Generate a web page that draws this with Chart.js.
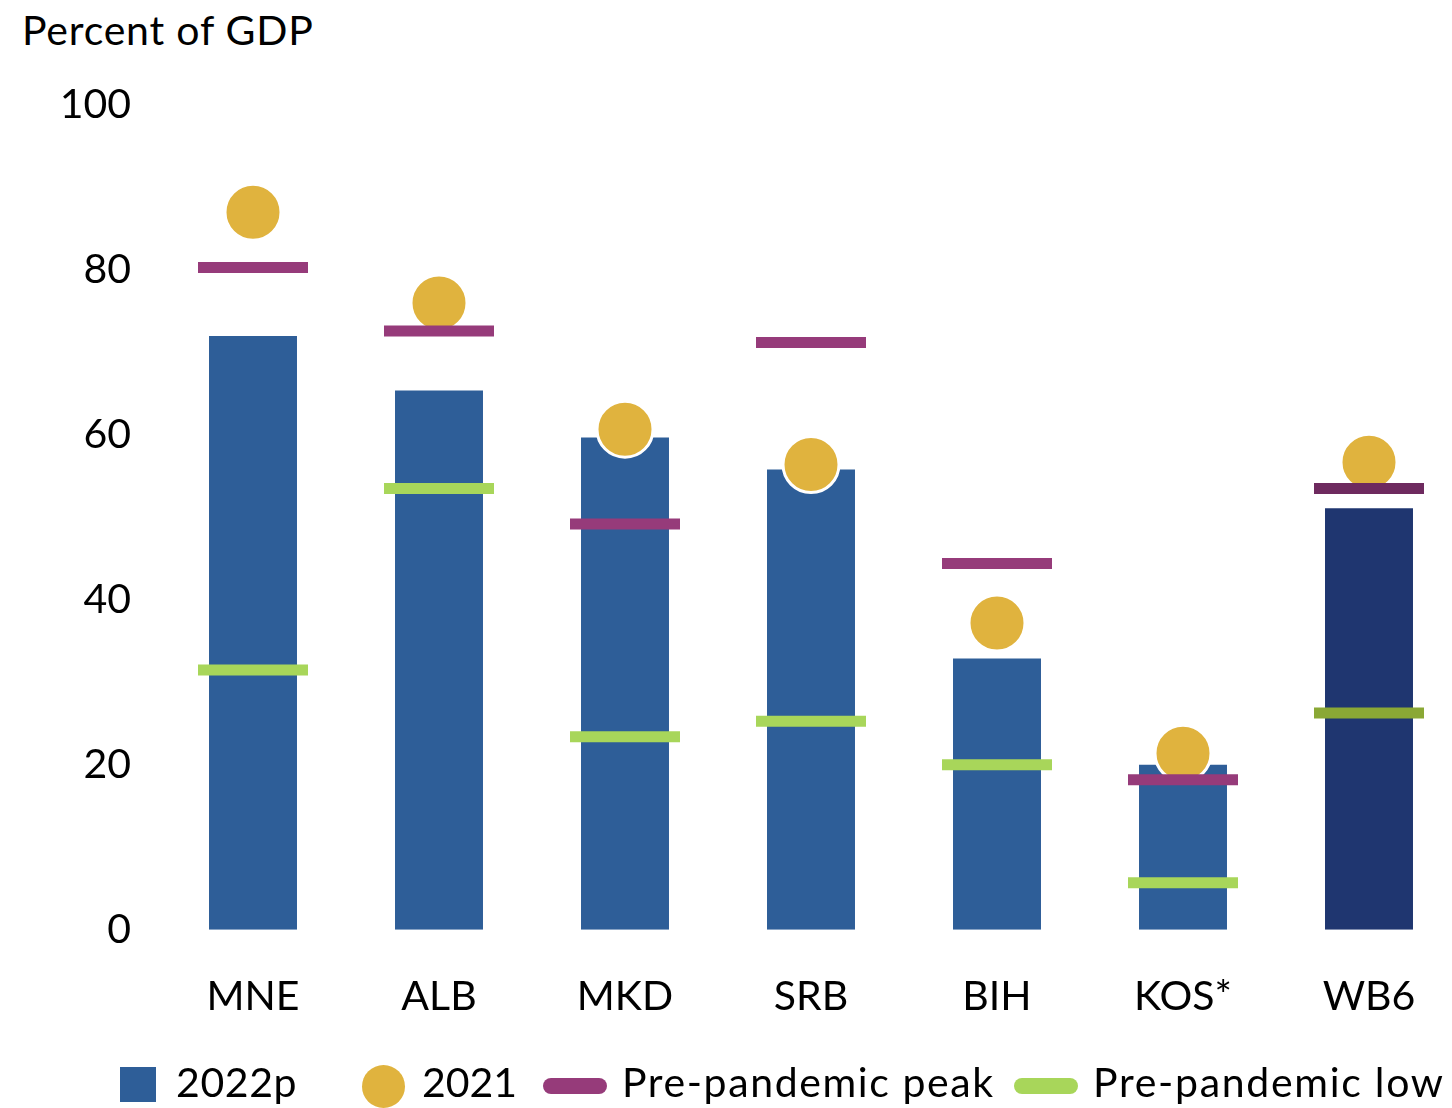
<!DOCTYPE html>
<html>
<head>
<meta charset="utf-8">
<script src="https://cdn.jsdelivr.net/npm/chart.js@4.4.0/dist/chart.umd.min.js"></script>
<style>
  html, body { margin: 0; padding: 0; background: #fff; }
  body { width: 1452px; height: 1108px; overflow: hidden; position: relative; font-family: Lato, "Open Sans", sans-serif; color: #000; }
  #wrap { position: absolute; left: 0; top: 0; width: 1470px; height: 1063px; }
  .txt { position: absolute; font-size: 41px; line-height: 41px; white-space: nowrap; }
  .key { position: absolute; }
</style>
</head>
<body>
<div class="txt" style="left:22px; top:9px; letter-spacing:0.8px;">Percent of GDP</div>
<div id="wrap"><canvas id="c" width="1470" height="1063"></canvas></div>

<div class="key" style="left:120px; top:1067px; width:36px; height:35px; background:#2E5E98;"></div>
<div class="txt" style="left:176px; top:1061px; letter-spacing:0.6px;">2022p</div>
<div class="key" style="left:362px; top:1065px; width:43px; height:43px; border-radius:50%; background:#E0B33E;"></div>
<div class="txt" style="left:422px; top:1061px;">2021</div>
<div class="key" style="left:543px; top:1078px; width:64px; height:16px; border-radius:8px; background:#963B7A;"></div>
<div class="txt" style="left:622px; top:1061px; letter-spacing:1.6px;">Pre-pandemic peak</div>
<div class="key" style="left:1014px; top:1078px; width:64px; height:16px; border-radius:8px; background:#A8D65A;"></div>
<div class="txt" style="left:1093px; top:1061px; letter-spacing:1.7px;">Pre-pandemic low</div>

<script>
// Economies and regional aggregate
const categories = ['MNE', 'ALB', 'MKD', 'SRB', 'BIH', 'KOS*', 'WB6'];
// Public debt, percent of GDP
const debt2022p = [72.0, 65.4, 59.7, 55.8, 32.9, 20.0, 51.1];
const debt2021 = [87.0, 76.0, 60.7, 56.4, 37.2, 21.4, 56.7];
const prePandemicPeak = [80.3, 72.6, 49.2, 71.2, 44.4, 18.2, 53.5];
const prePandemicLow = [31.5, 53.5, 23.4, 25.3, 20.0, 5.7, 26.3];
const yTicks = [0, 20, 40, 60, 80, 100];

// The regional aggregate gets darker shades
const isAggregate = categories.map(c => c === 'WB6');
const barColors = isAggregate.map(a => a ? '#1F3670' : '#2E5E98');
const peakColors = isAggregate.map(a => a ? '#6E2A5F' : '#963B7A');
const lowColors = isAggregate.map(a => a ? '#8AA835' : '#A8D65A');

const FONT = 'Lato, "Open Sans", sans-serif';

new Chart(document.getElementById('c'), {
  type: 'bar',
  data: {
    labels: categories,
    datasets: [
      {
        label: '2022p',
        data: debt2022p,
        backgroundColor: barColors,
        barPercentage: 0.473,
        categoryPercentage: 1,
        order: 3
      },
      {
        type: 'line',
        label: '2021',
        data: debt2021,
        showLine: false,
        pointStyle: 'circle',
        pointRadius: 28,
        pointBackgroundColor: '#E0B33E',
        pointBorderColor: '#FFFFFF',
        pointBorderWidth: 3,
        order: 2
      },
      {
        type: 'line',
        label: 'Pre-pandemic peak',
        data: prePandemicPeak,
        showLine: false,
        pointStyle: 'line',
        pointRadius: 55,
        pointBorderWidth: 11,
        pointBorderColor: peakColors,
        order: 1
      },
      {
        type: 'line',
        label: 'Pre-pandemic low',
        data: prePandemicLow,
        showLine: false,
        pointStyle: 'line',
        pointRadius: 55,
        pointBorderWidth: 11,
        pointBorderColor: lowColors,
        order: 0
      }
    ]
  },
  options: {
    responsive: false,
    animation: false,
    events: [],
    layout: { autoPadding: false, padding: { top: 105, right: 8, bottom: 0, left: 0 } },
    plugins: {
      legend: { display: false },
      tooltip: { enabled: false }
    },
    scales: {
      x: {
        offset: true,
        grid: { display: false, drawTicks: false },
        border: { display: false },
        ticks: { color: '#000', font: { family: FONT, size: 41 }, padding: 42 }
      },
      y: {
        min: 0,
        max: 100,
        afterBuildTicks: s => { s.ticks = yTicks.map(v => ({ value: v })); },
        afterFit: s => { s.width = 160; },
        grid: { display: false, drawTicks: false },
        border: { display: false },
        ticks: { color: '#000', font: { family: FONT, size: 41 }, padding: 29 }
      }
    }
  }
});
</script>
</body>
</html>
